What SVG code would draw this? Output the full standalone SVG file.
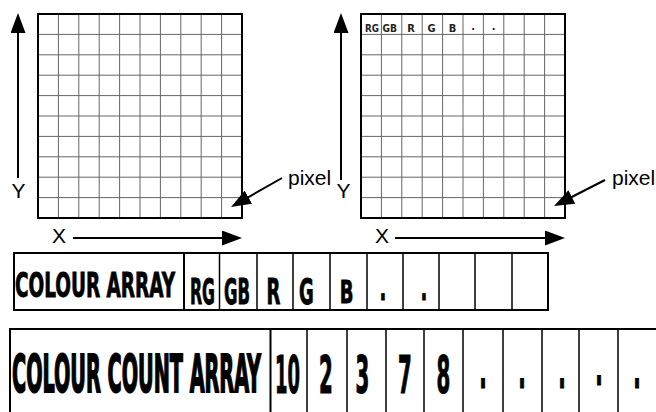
<svg xmlns="http://www.w3.org/2000/svg" xmlns:xlink="http://www.w3.org/1999/xlink" width="656" height="412" viewBox="0 0 656 412">
<style>
.gl{fill:none;stroke:#666;stroke-width:1}
.gb{fill:none;stroke:#000;stroke-width:2}
.ar{fill:none;stroke:#000;stroke-width:2;marker-end:url(#ah)}
.lab{font-family:"Liberation Sans",Arial,sans-serif;font-size:21px;fill:#000}
.bc{font-family:"DejaVu Sans Condensed","DejaVu Sans",sans-serif;font-weight:bold;font-stretch:condensed;fill:#000;stroke:#000;stroke-width:0.5}
.sm{font-family:"DejaVu Sans Condensed","DejaVu Sans",sans-serif;font-weight:bold;font-stretch:condensed;font-size:11px;fill:#222}
.cl{fill:none;stroke:#000;stroke-width:1.5}
.tb{fill:none;stroke:#000;stroke-width:2}
</style>
<defs>
<marker id="ah" markerUnits="userSpaceOnUse" markerWidth="20" markerHeight="15" refX="10" refY="7.5" orient="auto">
<path d="M0,0 L20,7.5 L0,15 Z" fill="#000"/>
</marker>
<g id="grid">
<rect width="204" height="204" fill="#fff"/>
<path class="gl" d="M20.4 0V204M40.8 0V204M61.2 0V204M81.6 0V204M102 0V204M122.4 0V204M142.8 0V204M163.2 0V204M183.6 0V204M0 20.4H204M0 40.8H204M0 61.2H204M0 81.6H204M0 102H204M0 122.4H204M0 142.8H204M0 163.2H204M0 183.6H204"/>
<rect class="gb" width="204" height="204"/>
</g>
</defs>
<rect width="656" height="412" fill="#fff"/>

<g id="left-grid">
<use xlink:href="#grid" x="38" y="14"/>
<text class="lab" x="18.5" y="198" text-anchor="middle">Y</text>
<text class="lab" x="59" y="243" text-anchor="middle">X</text>
<text class="lab" x="288" y="185">pixel</text>
</g>

<g id="right-grid">
<use xlink:href="#grid" x="361" y="14"/>
<text class="sm" x="365" y="32" textLength="14" lengthAdjust="spacingAndGlyphs">RG</text>
<text class="sm" x="382.5" y="32" textLength="14.5" lengthAdjust="spacingAndGlyphs">GB</text>
<text class="sm" x="411" y="32" text-anchor="middle">R</text>
<text class="sm" x="431.5" y="32" text-anchor="middle">G</text>
<text class="sm" x="452.5" y="32" text-anchor="middle">B</text>
<text class="sm" x="473.2" y="30" text-anchor="middle">.</text>
<text class="sm" x="493.6" y="30" text-anchor="middle">.</text>
<text class="lab" x="343.5" y="198" text-anchor="middle">Y</text>
<text class="lab" x="382" y="243" text-anchor="middle">X</text>
<text class="lab" x="612" y="185">pixel</text>
</g>

<g id="colour-array">
<rect class="tb" x="14" y="253" width="534" height="57"/>
<path class="tb" d="M184 253V310"/>
<path class="cl" d="M219.5 253V310M257 253V310M293 253V310M330 253V310M367 253V310M403 253V310M439 253V310M475 253V310M512 253V310"/>
<text class="bc" font-size="20" transform="translate(15,297) scale(1,1.71)" textLength="160" lengthAdjust="spacingAndGlyphs">COLOUR ARRAY</text>
<text class="bc" font-size="20" transform="translate(190,304) scale(1,1.75)" textLength="25" lengthAdjust="spacingAndGlyphs">RG</text>
<text class="bc" font-size="20" transform="translate(224,304) scale(1,1.75)" textLength="26" lengthAdjust="spacingAndGlyphs">GB</text>
<text class="bc" font-size="20" transform="translate(273.5,304) scale(1,1.75)" text-anchor="middle">R</text>
<text class="bc" font-size="20" transform="translate(306.5,304) scale(1,1.75)" text-anchor="middle">G</text>
<text class="bc" font-size="20" transform="translate(346.5,303) scale(1,1.6)" text-anchor="middle">B</text>
<text class="bc" font-size="20" transform="translate(383,300) scale(1,1.71)" text-anchor="middle">.</text>
<text class="bc" font-size="20" transform="translate(424,300) scale(1,1.71)" text-anchor="middle">.</text>
</g>

<g id="colour-count-array">
<path class="tb" d="M10 329H656M10 328V412M270.5 329V412"/>
<path class="cl" d="M307 329V412M347 329V412M386 329V412M424 329V412M463 329V412M503 329V412M542 329V412M579 329V412M618 329V412"/>
<text class="bc" font-size="20" transform="translate(12,392) scale(1,2.6)" textLength="249" lengthAdjust="spacingAndGlyphs" style="stroke-width:0.7">COLOUR COUNT ARRAY</text>
<text class="bc" font-size="22" transform="translate(275,393) scale(1,2.37)" textLength="25" lengthAdjust="spacingAndGlyphs">10</text>
<text class="bc" font-size="22" transform="translate(326,393) scale(1,2.37)" text-anchor="middle">2</text>
<text class="bc" font-size="22" transform="translate(362.5,393) scale(1,2.37)" text-anchor="middle">3</text>
<text class="bc" font-size="22" transform="translate(405,393) scale(1,2.37)" text-anchor="middle">7</text>
<text class="bc" font-size="22" transform="translate(443.5,393) scale(1,2.37)" text-anchor="middle">8</text>
<text class="bc" font-size="22" transform="translate(483,388) scale(1,2.3)" text-anchor="middle">.</text>
<text class="bc" font-size="22" transform="translate(522,388) scale(1,2.3)" text-anchor="middle">.</text>
<text class="bc" font-size="22" transform="translate(562,388) scale(1,2.3)" text-anchor="middle">.</text>
<text class="bc" font-size="22" transform="translate(599,385) scale(1,2.3)" text-anchor="middle">.</text>
<text class="bc" font-size="22" transform="translate(637,388) scale(1,2.3)" text-anchor="middle">.</text>
</g>

<g id="connectors">
<path class="ar" d="M18 178V23"/>
<path class="ar" d="M73 238H232"/>
<path class="ar" d="M282 178L239.7 202.1"/>
<path class="ar" d="M341 180V23"/>
<path class="ar" d="M395 238H555"/>
<path class="ar" d="M605 180L562.9 201.5"/>
</g>
</svg>
